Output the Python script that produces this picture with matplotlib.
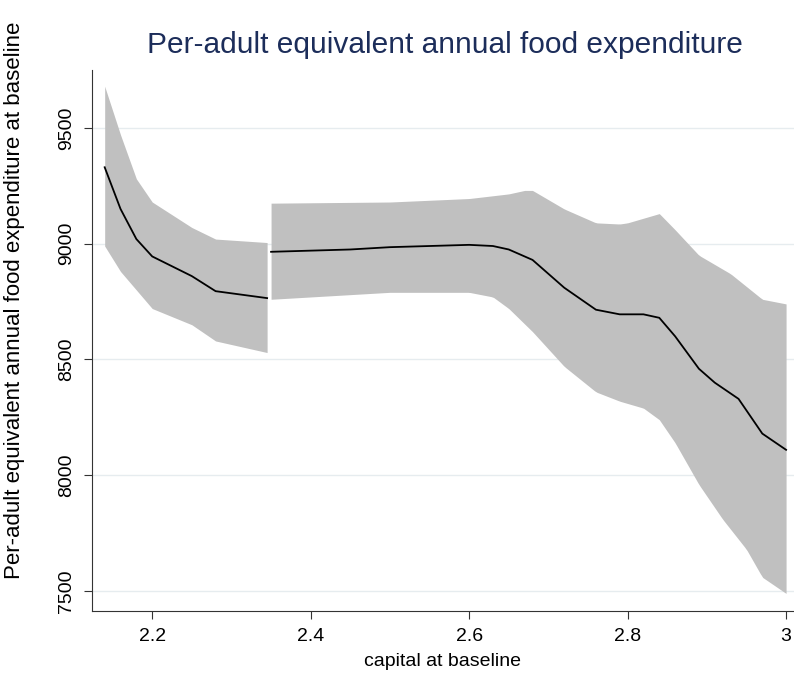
import numpy as np
import matplotlib.pyplot as plt

plt.rcParams['font.family'] = ['Liberation Sans', 'DejaVu Sans']

# left segment
x1 = [2.14, 2.16, 2.18, 2.2, 2.25, 2.28, 2.345]
m1 = [9330, 9150, 9020, 8945, 8860, 8795, 8765]
u1 = [9680, 9470, 9280, 9180, 9070, 9020, 9005]
l1 = [8990, 8880, 8800, 8720, 8650, 8580, 8530]

# right segment
xm2 = [2.35, 2.45, 2.5, 2.6, 2.63, 2.65, 2.68, 2.72, 2.76, 2.79, 2.82, 2.84, 2.86, 2.89, 2.91, 2.94, 2.97, 3.0]
m2 = [8965, 8975, 8985, 8995, 8990, 8975, 8930, 8810, 8715, 8695, 8695, 8680, 8600, 8460, 8400, 8330, 8180, 8110]
xu2 = [2.35, 2.5, 2.6, 2.65, 2.67, 2.68, 2.7, 2.72, 2.76, 2.79, 2.8, 2.84, 2.86, 2.89, 2.93, 2.97, 3.0]
u2 = [9175, 9180, 9195, 9215, 9230, 9230, 9190, 9150, 9090, 9085, 9090, 9130, 9060, 8950, 8870, 8760, 8740]
xl2 = [2.35, 2.5, 2.6, 2.63, 2.65, 2.68, 2.72, 2.76, 2.79, 2.82, 2.84, 2.86, 2.89, 2.92, 2.95, 2.97, 3.0]
l2 = [8760, 8790, 8790, 8770, 8720, 8620, 8470, 8360, 8320, 8290, 8240, 8140, 7960, 7810, 7680, 7560, 7490]

fig = plt.figure(figsize=(7.94, 6.81), dpi=100)
ax = fig.add_axes([92/794, 1-611/681, 702/794, 541/681])

ax.fill_between(x1, l1, u1, color='#c0c0c0', lw=0)
xs = np.linspace(2.35, 3.0, 200)
ax.fill_between(xs, np.interp(xs, xl2, l2), np.interp(xs, xu2, u2), color='#c0c0c0', lw=0)
ax.plot(x1, m1, color='black', lw=1.3)
ax.plot(xm2, m2, color='black', lw=1.3)

ax.set_xlim(2.124, 3.01)
ax.set_ylim(7414, 9750)
ax.set_xticks([2.2, 2.4, 2.6, 2.8, 3.0])
ax.set_xticklabels(['2.2', '2.4', '2.6', '2.8', '3'])
ax.set_yticks([7500, 8000, 8500, 9000, 9500])
ax.set_yticklabels(['7500', '8000', '8500', '9000', '9500'], rotation=90, va='center')
ax.tick_params(labelsize=14, length=6, color='#333333', pad=6)
ax.grid(axis='y', color='#e6ecef', lw=1)
ax.set_axisbelow(True)
for s in ['top', 'right']:
    ax.spines[s].set_visible(False)
for s in ['left', 'bottom']:
    ax.spines[s].set_color('#333333')
ax.set_xlabel('capital at baseline', fontsize=14)
ax.xaxis.set_label_coords(0.5, -0.078)
ax.set_ylabel('Per-adult equivalent annual food expenditure at baseline', fontsize=16)
ax.yaxis.set_label_coords(-0.096, 0.575)
fig.text(0.56, 0.934, 'Per-adult equivalent annual food expenditure', fontsize=21.5,
         color='#1c2d5a', ha='center', va='center')
fig.savefig('out.png')
